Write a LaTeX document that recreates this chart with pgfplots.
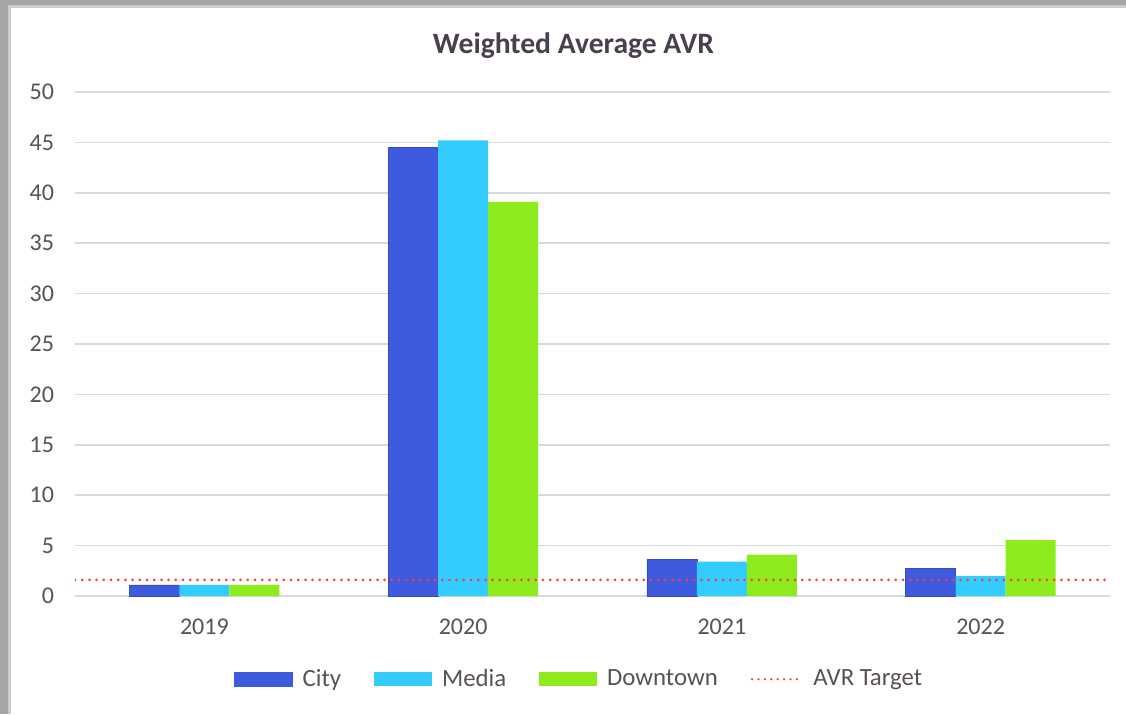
\documentclass[border=0pt]{standalone}
\usepackage{fontspec}
\setmainfont{Carlito}
\usepackage{pgfplots}
\pgfplotsset{compat=1.18}
\definecolor{cityc}{HTML}{3E5BE0}
\definecolor{mediac}{HTML}{33CCFF}
\definecolor{downc}{HTML}{8EEB1E}
\definecolor{txtc}{HTML}{595159}
\definecolor{titc}{HTML}{4A3F4D}
\definecolor{gridc}{HTML}{D6D9DE}
\definecolor{targc}{HTML}{FF3B3B}
\begin{document}
\begin{tikzpicture}
\useasboundingbox (0,0) rectangle (563pt,357pt);
\fill[white] (0,0) rectangle (563pt,357pt);
\fill[gray!70] (0,0) rectangle (4pt,357pt);
\fill[gray!40] (4pt,0) rectangle (5.5pt,357pt);
\fill[gray!70] (0,354.5pt) rectangle (563pt,357pt);
\fill[gray!40] (4pt,353pt) rectangle (563pt,354.5pt);
\begin{axis}[
  at={(37.5pt,59pt)}, anchor=south west,
  scale only axis, width=517.5pt, height=252pt,
  xmin=-0.5, xmax=3.5, ymin=0, ymax=50,
  axis line style={draw=none},
  ymajorgrids, grid style={gridc, line width=0.85pt},
  ytick={0,5,...,50},
  xtick={0,1,2,3}, xticklabels={2019,2020,2021,2022},
  major tick length=0pt,
  tick label style={font=\fontsize{12}{14}\selectfont, text=txtc},
  yticklabel style={xshift=-7pt},
  xticklabel style={yshift=-8pt},
  /pgf/number format/assume math mode=true,
  title={Weighted Average AVR},
  title style={font=\fontsize{14.8}{17}\selectfont\bfseries, text=titc, anchor=center, at={(0.4816,1)}, yshift=17pt},
  legend columns=4,
  legend style={draw=none, at={(0.488,-0.165)}, anchor=center, font=\fontsize{12.4}{14}\selectfont, text=txtc,
    /tikz/every odd column/.append style={column sep=3pt},
    /tikz/every even column/.append style={column sep=14.5pt}},
]
\draw[gridc, line width=0.85pt] (axis cs:-0.5,0) -- (axis cs:3.5,0);
\addplot[ybar, bar width=0.193, bar shift=-0.193, fill=cityc, draw=cityc!85!black, line width=0.3pt,
  legend image code/.code={\fill[cityc] (0pt,-3.6pt) rectangle (29pt,3.6pt);}]
  coordinates {(0,1.1) (1,44.5) (2,3.6) (3,2.75)};
\addlegendentry{City}
\addplot[ybar, bar width=0.193, bar shift=0, fill=mediac, draw=none,
  legend image code/.code={\fill[mediac] (0pt,-3.6pt) rectangle (29pt,3.6pt);}]
  coordinates {(0,1.1) (1,45.2) (2,3.4) (3,2.0)};
\addlegendentry{Media}
\addplot[ybar, bar width=0.193, bar shift=0.193, fill=downc, draw=none,
  legend image code/.code={\fill[downc] (0pt,-3.6pt) rectangle (29pt,3.6pt);}]
  coordinates {(0,1.1) (1,39.1) (2,4.1) (3,5.55)};
\addlegendentry{Downtown}
\addplot[targc, line width=1.5pt, line cap=round, dash pattern=on 0pt off 3.6pt,
  legend image code/.code={\draw[targc, line width=1.3pt, line cap=round, dash pattern=on 0pt off 3.2pt] (0pt,0pt) -- (25pt,0pt);}]
  coordinates {(-0.5,1.6) (3.5,1.6)};
\addlegendentry{AVR Target}
\end{axis}
\end{tikzpicture}
\end{document}
